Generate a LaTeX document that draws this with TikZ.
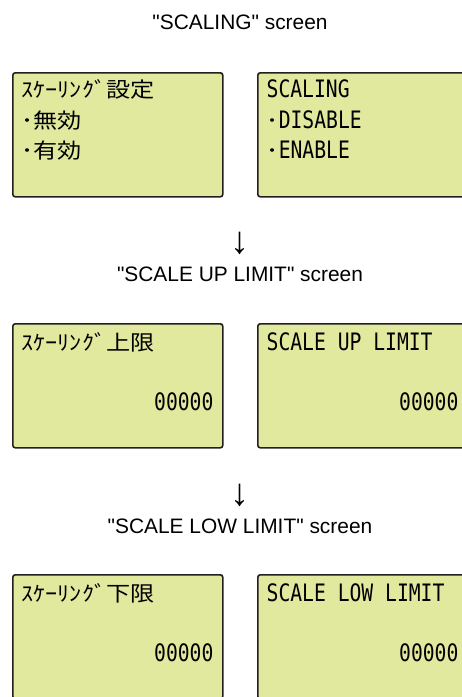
\documentclass[tikz,border=0pt]{standalone}
\usepackage{fontspec}
\setmainfont{Liberation Sans}
\newfontfamily\lcdfont[FakeStretch=0.82]{DejaVu Sans Mono}
\newfontfamily\jpfont[FakeStretch=1.15]{Noto Sans CJK JP}
\usetikzlibrary{positioning}
\definecolor{Ink}{HTML}{231F20}
\definecolor{LcdGreen}{HTML}{E1E99F}
\newcommand{\lcd}{\lcdfont\fontsize{24}{28}\selectfont}
\newcommand{\lcdjp}{\jpfont\fontsize{21}{24}\selectfont}

\begin{document}
\begin{tikzpicture}[x=1pt,y=-1pt,
    screen/.style={draw=Ink,fill=LcdGreen,line width=1.6pt,
      rounded corners=2.5pt,minimum width=210pt,minimum height=124pt,
      inner sep=0pt,anchor=north west},
    lcdline/.style={anchor=base west,inner sep=0pt,font=\lcd},
    jpline/.style={anchor=base west,inner sep=0pt,font=\lcdjp},
    lcdvalue/.style={anchor=base east,inner sep=0pt,font=\lcd},
    caption/.style={anchor=base,inner sep=0pt,
      font=\fontsize{20.9}{24}\selectfont},
    nextarrow/.style={inner sep=0pt,font=\fontsize{38}{40}\selectfont}]
  \useasboundingbox (0,0) rectangle (462,697);
  \clip (0,0) rectangle (462,697);

  % SCALING
  \node[caption] (capScaling) at (240,29)
    {\textquotedbl SCALING\textquotedbl{} screen};
  \node[screen] (scrScalingJp) at (12,72) {};
  \node[screen] (scrScalingEn) at (257,72) {};
  \node[jpline] (scalJpHead) at ([shift={(9.5,25.5)}]scrScalingJp.north west)
    {ｽｹｰﾘﾝｸﾞ設定};
  \node[jpline] (scalJpOff) at ([shift={(9.5,56)}]scrScalingJp.north west)
    {･無効};
  \node[jpline] (scalJpOn) at ([shift={(9.5,86)}]scrScalingJp.north west)
    {･有効};
  \node[lcdline] (scalEnHead) at ([shift={(9.5,25.5)}]scrScalingEn.north west)
    {SCALING};
  \node[lcdline] (scalEnOff) at ([shift={(9.5,56)}]scrScalingEn.north west)
    {{\lcdjp ･}DISABLE};
  \node[lcdline] (scalEnOn) at ([shift={(9.5,86)}]scrScalingEn.north west)
    {{\lcdjp ･}ENABLE};

  % SCALE UP LIMIT
  \node[nextarrow] (arrUp) at (240,243) {↓};
  \node[caption] (capUp) at (240,281)
    {\textquotedbl SCALE UP LIMIT\textquotedbl{} screen};
  \node[screen] (scrUpJp) at (12,323) {};
  \node[screen] (scrUpEn) at (257,323) {};
  \node[jpline] (upJpHead) at ([shift={(9.5,27)}]scrUpJp.north west)
    {ｽｹｰﾘﾝｸﾞ上限};
  \node[lcdvalue] (upJpVal) at ([shift={(-10,87)}]scrUpJp.north east)
    {00000};
  \node[lcdline] (upEnHead) at ([shift={(9.5,27)}]scrUpEn.north west)
    {SCALE UP LIMIT};
  \node[lcdvalue] (upEnVal) at ([shift={(-10,87)}]scrUpEn.north east)
    {00000};

  % SCALE LOW LIMIT
  \node[nextarrow] (arrLow) at (240,495) {↓};
  \node[caption] (capLow) at (240,533)
    {\textquotedbl SCALE LOW LIMIT\textquotedbl{} screen};
  \node[screen] (scrLowJp) at (12,574) {};
  \node[screen] (scrLowEn) at (257,574) {};
  \node[jpline] (lowJpHead) at ([shift={(9.5,27)}]scrLowJp.north west)
    {ｽｹｰﾘﾝｸﾞ下限};
  \node[lcdvalue] (lowJpVal) at ([shift={(-10,87)}]scrLowJp.north east)
    {00000};
  \node[lcdline] (lowEnHead) at ([shift={(9.5,27)}]scrLowEn.north west)
    {SCALE LOW LIMIT};
  \node[lcdvalue] (lowEnVal) at ([shift={(-10,87)}]scrLowEn.north east)
    {00000};
\end{tikzpicture}
\end{document}
